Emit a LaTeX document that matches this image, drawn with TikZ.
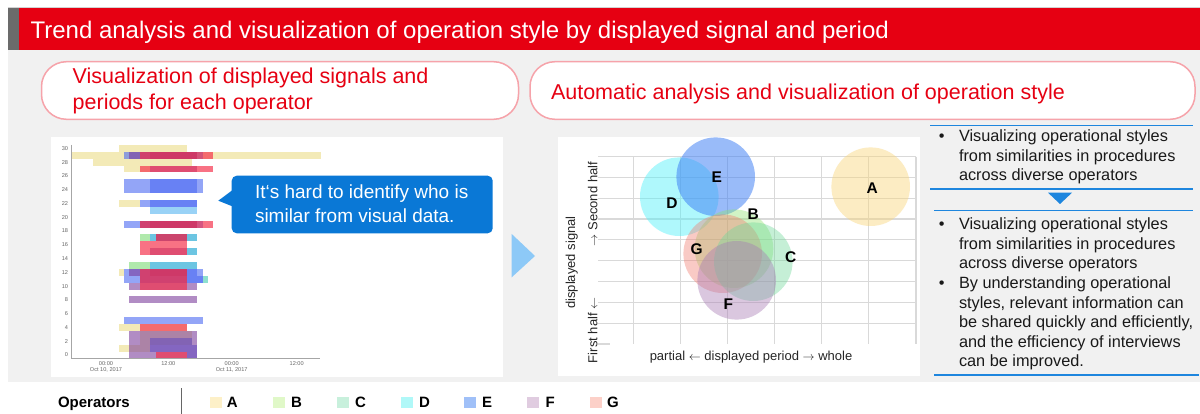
\documentclass[tikz,border=0pt]{standalone}
\usepackage{fontspec}
\setmainfont{Liberation Sans}
\definecolor{hdrred}{HTML}{E60012}
\definecolor{hdrgray}{HTML}{6B6B6B}
\definecolor{bggray}{HTML}{F1F1F1}
\definecolor{pillborder}{HTML}{F6A3AA}
\definecolor{callblue}{HTML}{0A78D6}
\definecolor{arrowblue}{HTML}{8DC9F7}
\definecolor{lineblue}{HTML}{1E86DE}
\definecolor{gridc}{HTML}{D9D9D9}
\definecolor{axisc}{HTML}{A6A6A6}
\definecolor{tickc}{HTML}{666666}
\definecolor{cA}{HTML}{EFE3A0}
\definecolor{cB}{HTML}{8FE08A}
\definecolor{cC}{HTML}{30C8A8}
\definecolor{cD}{HTML}{56B4F0}
\definecolor{cE}{HTML}{4C6AF2}
\definecolor{cF}{HTML}{7A3A9A}
\definecolor{cG}{HTML}{F5304A}
\definecolor{bA}{HTML}{F9D57A}
\definecolor{bB}{HTML}{8CE36E}
\definecolor{bC}{HTML}{6FD89A}
\definecolor{bD}{HTML}{4FF0FA}
\definecolor{bE}{HTML}{3D7EF5}
\definecolor{bF}{HTML}{A77BB5}
\definecolor{bG}{HTML}{F27C6E}
\definecolor{lA}{HTML}{FDF0C8}
\definecolor{lB}{HTML}{E0F8C8}
\definecolor{lC}{HTML}{C8F0DC}
\definecolor{lD}{HTML}{B0F8F8}
\definecolor{lE}{HTML}{A0C0F8}
\definecolor{lF}{HTML}{E0CCE0}
\definecolor{lG}{HTML}{FCD0C8}
\begin{document}
\begin{tikzpicture}[x=1pt,y=-1pt,
  every node/.style={inner sep=0pt,outer sep=0pt},
  pill/.style={draw=pillborder,line width=1.5pt,fill=white,rounded corners=25pt},
  pilltext/.style={anchor=base west,text=hdrred,font=\fontsize{21.5}{26}\selectfont},
  calltext/.style={anchor=base west,text=white,font=\fontsize{19}{23}\selectfont},
  rtext/.style={anchor=base west,text=black!90,font=\fontsize{16.3}{19.5}\selectfont},
  rbullet/.style={anchor=base,text=black!90,font=\fontsize{16.3}{19.5}\selectfont},
  tick/.style={text=tickc,font=\fontsize{5.6}{6}\selectfont},
  axlab/.style={text=black!85,font=\fontsize{13}{15}\selectfont},
  bub/.style={font=\bfseries\fontsize{15.5}{16}\selectfont},
  legsq/.style={minimum width=11.5pt,minimum height=11pt},
  legtxt/.style={anchor=base west,font=\bfseries\fontsize{15}{16}\selectfont},
  barA/.style={fill=cA,fill opacity=0.75},
  barB/.style={fill=cB,fill opacity=0.7},
  barC/.style={fill=cC,fill opacity=0.55},
  barD/.style={fill=cD,fill opacity=0.6},
  barE/.style={fill=cE,fill opacity=0.6},
  barF/.style={fill=cF,fill opacity=0.58},
  barG/.style={fill=cG,fill opacity=0.68},
  gline/.style={draw=gridc,line width=1.2pt},
  bline/.style={draw=lineblue,line width=1.6pt}
]
\useasboundingbox (0,0) rectangle (1200,414);
% header
\draw[gray!35,line width=0.8pt] (7.7,7.4) -- (1200,7.4);
\fill[hdrred] (7.7,8) rectangle (1200,50);
\fill[hdrgray] (7.7,8) rectangle (19,50);
\node[anchor=base west,text=white,font=\fontsize{24}{28}\selectfont] (title) at (30.6,38.3)
  {Trend analysis and visualization of operation style by displayed signal and period};
% background
\fill[bggray] (7.7,50) rectangle (1200,382);
% pills
\node[pill,minimum width=477pt,minimum height=57.6pt] (pillL) at (280,90.5) {};
\node[pill,minimum width=665pt,minimum height=57.6pt] (pillR) at (862.5,90.5) {};
\node[pilltext] (pl1) at (72.7,84) {Visualization of displayed signals and};
\node[pilltext] (pl2) at (72.7,110) {periods for each operator};
\node[pilltext] (pr1) at (551,100) {Automatic analysis and visualization of operation style};
% left panel
\fill[white] (50.7,136.7) rectangle (503,376.7);
% bars
\foreach \c/\v/\xa/\xb in {
  barA/30/119/187.3, barA/29/71.7/320.7, barA/28/92.7/192.3, barA/27/124.3/150,
  barA/22/119/140, barA/12/119/124.3, barA/4/119/187.3, barA/1/119/150,
  barA/3/140/192.3, barA/2/140/192.3,
  barB/17/140/150, barB/13/129.3/150,
  barC/13/150/197.3, barC/17/150/197.3, barC/15/187.3/197.3, barC/11/202.7/208.3,
  barD/21/150/197.3, barD/17/150/197.3, barD/15/187.3/197.3, barD/13/150/197.3,
  barE/29/124.3/202.7, barE/25/124.3/202.7, barE/24/124.3/202.7, barE/25/150/197.3,
  barE/24/150/197.3, barE/22/140/197.3, barE/22/150/197.3, barE/19/124.3/202.7,
  barE/12/124.3/202.7, barE/11/124.3/202.7, barE/11/187.3/202.7, barE/12/187.3/197.3,
  barE/5/124.3/202.7, barE/2/150/192.3, barE/1/150/197.3, barE/0/187.3/197.3,
  barF/29/129.3/197.3, barF/29/150/197.3, barF/27/150/197.3, barF/19/140/197.3,
  barF/19/150/197.3, barF/17/155.7/187.3, barF/15/150/187.3, barF/12/129.3/187.3,
  barF/12/150/187.3, barF/11/140/187.3, barF/10/129.3/197.3, barF/8/129.3/197.3,
  barF/3/129.3/197.3, barF/2/129.3/197.3, barF/1/129.3/197.3, barF/0/129.3/197.3,
  barG/29/140/213.3, barG/27/140/213.3, barG/19/140/213.3, barG/17/155.7/187.3,
  barG/16/140/187.3, barG/15/140/187.3, barG/12/140/187.3, barG/11/140/187.3,
  barG/10/140/187.3, barG/4/140/187.3, barG/0/155.7/187.3}
  \fill[\c] (\xa,{355-6.89*\v-3.45}) rectangle (\xb,{355-6.89*\v+3.45});
% axes
\draw[axisc,line width=0.7pt] (71.7,145) -- (71.7,358.3) -- (320,358.3);
\foreach \v in {0,2,...,30}
  \node[tick,anchor=east] (yt\v) at (68,{355-6.89*\v}) {\v};
\node[tick] (xt1) at (106,363.3) {00:00};
\node[tick] (xd1) at (106,370) {Oct 10, 2017};
\node[tick] (xt2) at (168.3,363.3) {12:00};
\node[tick] (xt3) at (231.7,363.3) {00:00};
\node[tick] (xd3) at (231.7,370) {Oct 11, 2017};
\node[tick] (xt4) at (296.7,363.3) {12:00};
% callout
\fill[callblue] (234,189) -- (218.3,200.7) -- (234,207) -- cycle;
\node[fill=callblue,rounded corners=5pt,minimum width=261pt,minimum height=57.6pt] (callout) at (362.2,204.5) {};
\node[calltext] (c1) at (255,199) {It‘s hard to identify who is};
\node[calltext] (c2) at (255,222.4) {similar from visual data.};
% arrow
\fill[arrowblue] (511.7,234) -- (535,256) -- (511.7,277.3) -- cycle;
% right panel
\fill[white] (557.7,136.7) rectangle (920,376);
\foreach \k in {0,...,8}
  \draw[gline] (598,{156.7+\k*20.8}) -- (916,{156.7+\k*20.8});
\draw[gline] (598,344) -- (610,344);
\foreach \k in {0,...,6}
  \draw[gline] ({633.3+\k*47.1},156.7) -- ({633.3+\k*47.1},344);
% bubbles
\fill[bA,fill opacity=0.45] (870.7,186.7) circle (39.3);
\fill[bD,fill opacity=0.45] (679.3,196.7) circle (39.3);
\fill[bE,fill opacity=0.52] (715.7,176.7) circle (39.3);
\fill[bB,fill opacity=0.4] (734,248.7) circle (39.3);
\fill[bG,fill opacity=0.4] (722.7,253.7) circle (39.3);
\fill[bC,fill opacity=0.4] (753.3,261.7) circle (39.3);
\fill[bF,fill opacity=0.42] (736.7,280.3) circle (39.3);
\node[bub] (lA) at (872.3,187.7) {A};
\node[bub] (lE) at (716.7,177) {E};
\node[bub] (lD) at (672,203) {D};
\node[bub] (lB) at (753.3,214.3) {B};
\node[bub] (lC) at (790.7,257.3) {C};
\node[bub] (lF) at (728.3,304) {F};
\node[bub] (lG) at (696.7,249) {G};
\node[axlab,rotate=90] (ysig) at (571.7,262.5) {displayed signal};
\node[axlab,rotate=90,anchor=west] (yfirst) at (592.7,363) {First half $\leftarrow$};
\node[axlab,rotate=90,anchor=east] (ysecond) at (592.7,162) {$\rightarrow$ Second half};
\node[axlab,anchor=base] (xper) at (751,360.7) {partial $\leftarrow$ displayed period $\rightarrow$ whole};
% right column
\draw[bline] (930,125.7) -- (1193,125.7);
\draw[bline] (930,189.3) -- (1193,189.3);
\fill[lineblue] (1048,192.7) -- (1072,192.7) -- (1060,204) -- cycle;
\draw[bline] (934,210.7) -- (1193,210.7);
\draw[bline] (934,375) -- (1199,375);
\node[rbullet] (b1) at (941.7,141.6) {•};
\node[rtext] (r1) at (959,141.6) {Visualizing operational styles};
\node[rtext] (r2) at (959,161.2) {from similarities in procedures};
\node[rtext] (r3) at (959,180.8) {across diverse operators};
\node[rbullet] (b2) at (941.7,229.9) {•};
\node[rbullet] (b3) at (941.7,288.5) {•};
\foreach \t [count=\i from 0] in {Visualizing operational styles, from similarities in procedures, across diverse operators, By understanding operational, {styles, relevant information can}, {be shared quickly and efficiently,}, and the efficiency of interviews, can be improved.}
  \node[rtext] (s\i) at (959,{229.9+\i*19.53}) {\t};
% legend
\fill[white] (29,381.7) rectangle (1200,414);
\node[anchor=base west,font=\bfseries\fontsize{15}{16}\selectfont] (ops) at (58,407.5) {Operators};
\draw[black!60,line width=0.8pt] (181,388) -- (181,414);
\foreach \n/\x/\lx in {A/216/226.8, B/279/291, C/343/355, D/407/419, E/470/482, F/533/545.5, G/596/607}{
  \node[legsq,fill=l\n] (sq\n) at (\x,402) {};
  \node[legtxt] (lt\n) at (\lx,407.5) {\n};
}
\end{tikzpicture}
\end{document}
